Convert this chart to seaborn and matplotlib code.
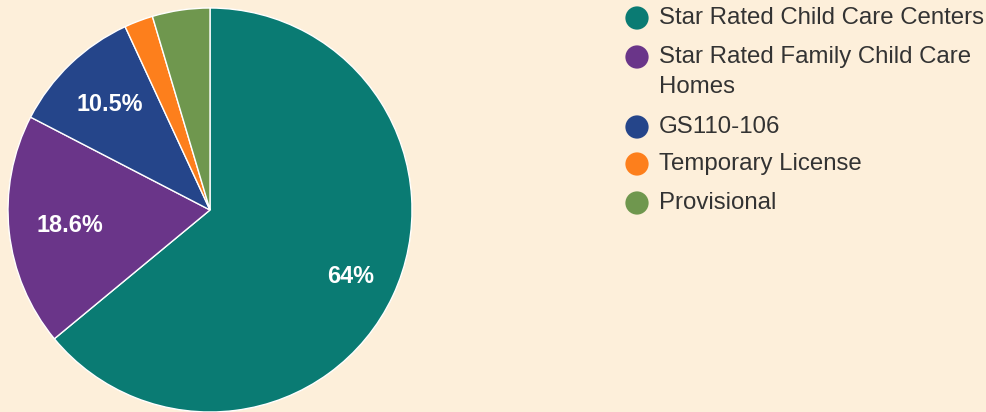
import matplotlib
matplotlib.use("Agg")
import matplotlib.pyplot as plt
import numpy as np
import seaborn as sns

categories = ["Star Rated Child Care Centers", "Star Rated Family Child Care\nHomes",
              "GS110-106", "Temporary License", "Provisional"]
values = [64.0, 18.6, 10.5, 2.3, 4.6]
colors = ["#0a7b73", "#6a3589", "#25458a", "#fd7f1c", "#6f974e"]

sns.set_style("white")
plt.rcParams["font.family"] = ["Liberation Sans", "DejaVu Sans"]
palette = sns.color_palette(colors)

BG = "#fdefda"
W, H = 987, 412
fig = plt.figure(figsize=(W / 100, H / 100), dpi=100, facecolor=BG)

# pie axes: centre (210,210) px, radius 202 px
cx, cy, r = 210, 210, 202
ax = fig.add_axes([(cx - r) / W, (H - cy - r) / H, 2 * r / W, 2 * r / H])
ax.set_facecolor(BG)

def fmt(p):
    if p < 5:
        return ""
    s = f"{p:.1f}"
    if s.endswith(".0"):
        s = s[:-2]
    return s + "%"

wedges, texts, autotexts = ax.pie(values, colors=palette, startangle=90, counterclock=False,
                                  autopct=fmt, pctdistance=0.73, radius=1.0,
                                  wedgeprops=dict(edgecolor="white", linewidth=1.0),
                                  textprops=dict(color="white", fontsize=16.8, fontweight="bold"))
# per-label radial distance to match reference placement
label_dist = [0.77, 0.70, 0.72, 0.73, 0.73]
for w, t, d in zip(wedges, autotexts, label_dist):
    ang = np.deg2rad((w.theta1 + w.theta2) / 2)
    t.set_position((d * np.cos(ang), d * np.sin(ang)))

ax.set_xlim(-1, 1)
ax.set_ylim(-1, 1)
ax.set_aspect("equal")
ax.axis("off")

# legend drawn in pixel coordinates
lax = fig.add_axes([0, 0, 1, 1], facecolor="none")
lax.set_xlim(0, W)
lax.set_ylim(H, 0)
lax.axis("off")
ys = [18, 57, 127, 164, 203]
for y, lab, col in zip(ys, categories, palette):
    lax.scatter([637], [y], s=280, color=col, edgecolors="none")
    for i, line in enumerate(lab.split("\n")):
        lax.text(659, y + 30 * i, line, fontsize=17.3, color="#333333", va="center")

fig.savefig("out.png", dpi=100, facecolor=BG)
